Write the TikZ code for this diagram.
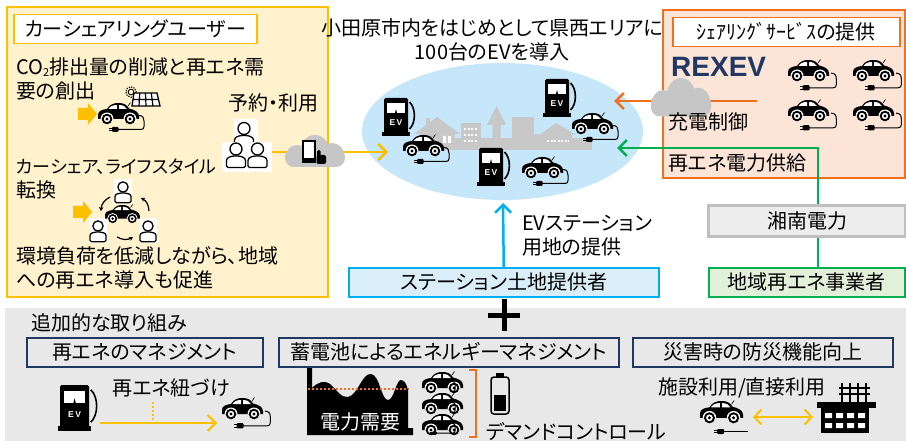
\documentclass[tikz,border=0pt]{standalone}
\usepackage{fontspec}
\setmainfont{Noto Sans CJK JP}[RawFeature=+palt]
\newfontfamily\logofont{Liberation Sans}
\usetikzlibrary{arrows.meta,positioning,shapes.geometric,calc}

\definecolor{userfill}{HTML}{FFF2CC}
\definecolor{useryellow}{HTML}{FFC000}
\definecolor{areablue}{HTML}{C6E6FA}
\definecolor{citygray}{HTML}{C8C8C8}
\definecolor{cloudgray}{HTML}{C6C6C6}
\definecolor{rexevfill}{HTML}{FCE4D6}
\definecolor{rexevorange}{HTML}{F0701E}
\definecolor{rexevnavy}{HTML}{203864}
\definecolor{landblue}{HTML}{00B0F0}
\definecolor{landfill}{HTML}{DAEEF9}
\definecolor{powergreen}{HTML}{00B050}
\definecolor{greenfill}{HTML}{E2F0D9}
\definecolor{shonanfill}{HTML}{EDEDED}
\definecolor{shonangray}{HTML}{BFBFBF}
\definecolor{bandgray}{HTML}{E8E8E8}

\tikzset{
    lbl/.style={font=\fontsize{20}{24}\selectfont, inner sep=0pt, align=left},
    box/.style={draw, line width=1.5pt, inner sep=0pt, anchor=north west, font=\fontsize{20}{24}\selectfont},
    flow/.style={line width=2.5pt, -{Straight Barb[length=8pt,width=16pt]}},
    % car silhouette, roof top at y=0
    carbody/.pic={
        \fill (0,16) -- (0,12) .. controls (0,8) and (4,6.5) .. (9,6) .. controls (12,1) and (16,0) .. (21,0)
            .. controls (26,0) and (29,2) .. (31,5.5) .. controls (36,6.5) and (41,9) .. (41,13) -- (41,16) -- cycle;
        \fill[white] (10.5,6) .. controls (12.5,3) and (15,2) .. (19,2) -- (19,6) -- cycle;
        \fill[white] (21,2) .. controls (25,2) and (27.5,3.5) .. (29,6) -- (21,6) -- cycle;
        \draw[line width=0.6pt] (30,3) -- (32.5,-0.5);
        \foreach \wx in {9,32} {
            \fill[white] (\wx,16) ++(-6.5,0) arc[start angle=180, end angle=360, radius=6.5] -- cycle;
            \fill (\wx,16) circle (5.3);
            \fill[white] (\wx,16) circle (3.2);
            \fill (\wx,16) circle (1.6);
        }
    },
    % car with charging cable and plug
    evcar/.pic={
        \pic {carbody};
        \draw[line width=1pt] (41,12.5) .. controls (45,12.5) and (46,15) .. (46,18) -- (46,23.5)
            .. controls (46,25.5) and (45,26.5) .. (43,26.5) -- (20,26.5);
        \fill[rounded corners=1pt] (14,24) rectangle (20.5,29);
        \draw[line width=0.8pt] (14,25.2) -- (11,25.2) (14,27.8) -- (11,27.8);
    },
    carlink/.pic={
        \pic {carbody};
        \draw[line width=1pt] (41,12.5) .. controls (45,12.5) and (46,15) .. (46,18) -- (46,24)
            .. controls (46,26) and (45,27) .. (42,27);
    },
    % charging post
    evpost/.pic={
        \fill[rounded corners=1.5pt] (1,0) rectangle (25,36);
        \fill (-1,34) rectangle (27,38);
        \fill[white] (4,5) rectangle (22,15);
        \fill (12,15) -- (13,11) -- (14,15) -- cycle;
        \node[white, inner sep=0, font=\logofont\bfseries\fontsize{8.5}{8.5}\selectfont] (ev) at (13,25) {E\,V};
        \draw[line width=1.6pt] (26.5,4) .. controls (33,10) and (33,25) .. (26.5,31);
    },
    % person outline, head centre at origin
    user/.pic={
        \filldraw[fill=white, line width=1.3pt, rounded corners=1.5pt] (-9.5,18.5) -- (-9.5,13)
            .. controls (-9.5,8.5) and (-5,7) .. (0,7) .. controls (5,7) and (9.5,8.5) .. (9.5,13) -- (9.5,18.5) -- cycle;
        \filldraw[fill=white, line width=1.3pt] (0,0) circle (6);
    },
    cloudicon/.pic={
        \fill[cloudgray] (15,21) circle (11);
        \fill[cloudgray] (33,14) circle (14);
        \fill[cloudgray] (50,20) circle (12);
        \fill[cloudgray, rounded corners=9pt] (3,13) rectangle (63,32);
    }
}

\begin{document}
\begin{tikzpicture}[x=1pt, y=-1pt]
    \useasboundingbox (0,0) rectangle (906,441);

    % Car sharing users
    \node[box, draw=useryellow, fill=userfill, line width=2pt, minimum width=321, minimum height=290] (userbox) at (6,6) {};
    \node[box, draw=useryellow, fill=white, minimum width=243, minimum height=29] (usertitle) at (13,14) {カーシェアリングユーザー};
    \node[lbl, anchor=base west] (co2) at (16,99) {CO{\fontsize{11}{11}\selectfont\raisebox{-2pt}{2}}排出量の削減と再エネ需\\要の創出};
    \node[lbl, anchor=base] (reserve) at (273,110.5) {予約・利用};
    \node[lbl, anchor=base west] (lifestyle) at (16,197.5) {{\fontsize{18}{24}\selectfont カーシェア、ライフスタイル}\\転換};
    \node[lbl, anchor=base west] (local) at (16,287.5) {環境負荷を低減しながら、地域\\への再エネ導入も促進};

    % block arrows
    \fill[useryellow] (78,108) -- (88,108) -- (88,103) -- (97,114) -- (88,125) -- (88,120) -- (78,120) -- cycle;
    \fill[useryellow] (73,206) -- (83,206) -- (83,201) -- (92,212) -- (83,223) -- (83,218) -- (73,218) -- cycle;

    % solar car
    \pic at (98,103) {evcar};
    \draw[line width=0.9pt] (131,92) circle (2.8);
    \draw[line width=1.2pt, dash pattern=on 1.2pt off 1.2pt] (131,92) circle (5.2);
    \filldraw[fill=white, line width=1.3pt] (134,93) -- (157,93) -- (160,106) -- (132,106) -- cycle;
    \draw[line width=1.2pt] (139.75,93) -- (139,106) (145.5,93) -- (146,106) (151.25,93) -- (153,106) (133,99.5) -- (158.5,99.5);

    % sharing cycle
    \fill[white] (114,179) rectangle (132,204);
    \fill[white] (89,218) rectangle (107,243);
    \fill[white] (139,218) rectangle (157,243);
    \pic[scale=0.85] at (123,187) {user};
    \pic[scale=0.85] at (98,226) {user};
    \pic[scale=0.85] at (148,226) {user};
    \pic[scale=0.85] at (105,205) {carbody};
    \begin{scope}[line width=1.2pt, -{Stealth[length=4pt,width=4.5pt]}]
        \draw (110,197) to[bend right=30] (101,211);
        \draw (149,211) to[bend right=30] (141,198);
        \draw (117,237) to[bend right=30] (133,237);
    \end{scope}

    % service area
    \node[ellipse, fill=areablue, minimum width=281, minimum height=137, inner sep=0] (area) at (502.5,131.5) {};
    \node[lbl, align=center, anchor=base] (goal) at (492,59.5) {小田原市内をはじめとして県西エリアに\\100台のEVを導入};
    \coordinate (areaW) at (388,152);
    \coordinate (areaNE) at (614,101);
    \coordinate (areaE) at (617,148);
    \coordinate (areaS) at (503,203);

    % town
    \fill[citygray] (418,138) rectangle (592,150);
    \fill[citygray] (420,132) rectangle (455,150);
    \fill[citygray] (414,134) -- (437,117) -- (460,134) -- cycle;
    \fill[citygray] (426,118) rectangle (430,127);
    \fill[white] (443,136) rectangle (446,143) (448,136) rectangle (451,143);
    \fill[citygray] (461,123) rectangle (481,150);
    \foreach \wy in {129,135,141}
        \draw[white, line width=2pt, dash pattern=on 2pt off 1.5pt] (464,\wy) -- (478,\wy);
    \fill[citygray] (487,125) -- (496.5,106) -- (506,125) -- (500.5,125) -- (500.5,150) -- (492.5,150) -- (492.5,125) -- cycle;
    \fill[citygray] (512,117) rectangle (534,150);
    \fill[citygray] (534,134) rectangle (545,150);
    \fill[citygray] (543,134) rectangle (572,150);
    \fill[citygray] (539,135) -- (556,123) -- (576,135) -- cycle;
    \draw[white, line width=2pt, dash pattern=on 2pt off 1.5pt] (547,141) -- (569,141);

    % posts and cars
    \pic at (383,98) {evpost};
    \pic at (544,79) {evpost};
    \pic at (478,148) {evpost};
    \pic at (403,135) {evcar};
    \pic at (572,113) {evcar};
    \pic at (522,157) {evcar};

    % booking line
    \coordinate (usersE) at (272,152);
    \draw[flow, useryellow] (usersE) -- (areaW);
    \pic at (282,135) {cloudicon};
    \filldraw[fill=white, line width=1.6pt] (303,141) rectangle (315,162);
    \fill (303,158) rectangle (315,162);
    \fill[rounded corners=1.5pt] (317,150) rectangle (320.5,158);
    \fill[rounded corners=2pt] (316.5,155) rectangle (326,164);
    \fill[white] (234,119) rectangle (258,142);
    \pic at (244,128.5) {user};
    \fill[white] (222,142) rectangle (272,172);
    \pic at (236,149) {user};
    \pic at (257.5,149) {user};

    % REXEV
    \node[box, draw=rexevorange, fill=rexevfill, line width=2pt, minimum width=242, minimum height=168] (rexevbox) at (662,9) {};
    \node[box, draw=rexevorange, fill=white, minimum width=227, minimum height=29] (rexevtitle) at (672,17) {ｼｪｱﾘﾝｸﾞｻｰﾋﾞｽの提供};
    \node[anchor=base west, inner sep=0, text=rexevnavy, font=\logofont\bfseries\fontsize{28}{28}\selectfont] (rexev) at (671,77) {REXEV};
    \foreach \cx/\cy in {788/60,853/60,788/100,853/100}
        \pic[scale=1.05] at (\cx,\cy) {evcar};
    \coordinate (ctrlE) at (757,101);
    \draw[flow, rexevorange] (ctrlE) -- (areaNE);
    \pic[yscale=1.2] at (648,78) {cloudicon};
    \node[lbl, anchor=base west] (ctrl) at (668,129.5) {充電制御};
    \node[lbl, anchor=base west] (supplytext) at (668,170.5) {再エネ電力供給};

    % power supply
    \coordinate (supply) at (818,148);
    \node[box, draw=powergreen, fill=greenfill, minimum width=196, minimum height=29] (localre) at (708,267) {地域再エネ事業者};
    \draw[flow, powergreen] (localre.north -| supply) -- (supply) -- (areaE);
    \node[box, draw=shonangray, fill=shonanfill, line width=3pt, minimum width=197, minimum height=31] (shonan) at (707,204) {湘南電力};

    % station land
    \node[box, draw=landblue, fill=landfill, minimum width=310, minimum height=29] (landbox) at (348,267) {ステーション土地提供者};
    \draw[flow, landblue] (landbox.north) -- (areaS);
    \node[lbl, anchor=base west] (landtext) at (522,254.5) {EVステーション\\用地の提供};

    % additional measures
    \node[fill=bandgray, inner sep=0, anchor=north west, minimum width=901, minimum height=133] (extras) at (5,308) {};
    \draw[line width=5pt] (488,315) -- (520,315) (504,299) -- (504,331);
    \node[lbl, anchor=base west] (extratitle) at (31,330.5) {追加的な取り組み};
    \node[box, draw=rexevnavy, minimum width=236, minimum height=29] (mgmt) at (26,337) {再エネのマネジメント};
    \node[box, draw=rexevnavy, minimum width=340, minimum height=29] (storage) at (278,337) {蓄電池によるエネルギーマネジメント};
    \node[box, draw=rexevnavy, minimum width=260, minimum height=29] (disaster) at (632,337) {災害時の防災機能向上};

    % renewable link
    \node[lbl, anchor=base] (link) at (171,395.5) {再エネ紐づけ};
    \pic[scale=1.2] at (59,385) {evpost};
    \coordinate (postE) at (100,423);
    \coordinate (carW) at (217,423);
    \draw[flow, useryellow, line width=2pt] (postE) -- (carW);
    \draw[useryellow, line width=2pt, dash pattern=on 2pt off 2pt] (153,402) -- (153,421);
    \pic[scale=1.05] at (222,398) {evcar};

    % demand curve
    \fill (307,435) -- (307,368) -- (312,368) -- (312,388) .. controls (318,382) and (324,380) .. (330,384)
        .. controls (337,390) and (341,398) .. (348,397) .. controls (358,395) and (362,373) .. (371,374)
        .. controls (380,375) and (381,400) .. (388,400) .. controls (394,400) and (396,380) .. (401,380)
        .. controls (405,380) and (407,386) .. (408,390) -- (408,428) -- (413,428) -- (413,435) -- cycle;
    \draw[rexevorange, line width=2pt, dash pattern=on 2pt off 2pt] (308,389) -- (409,389);
    \node[lbl, anchor=base, text=white] (demand) at (360,429.5) {電力需要};
    \pic[scale=0.72] at (422,372) {carlink};
    \pic[scale=0.72] at (422,393) {carlink};
    \pic[scale=0.72] at (422,414) {evcar};
    \draw[rexevorange, line width=1.5pt] (469,370) -- (476,370) -- (476,437) -- (469,437);
    \draw[line width=1.5pt, rounded corners=3pt] (491,377) rectangle (509,414);
    \fill (496,372.5) rectangle (504,377);
    \fill (494,395) rectangle (506,411);
    \node[lbl, anchor=base west] (control) at (486,439.5) {デマンドコントロール};

    % facility use
    \node[lbl, anchor=base] (facility) at (742,394.5) {施設利用/直接利用};
    \pic[scale=1.05] at (700,401) {carbody};
    \fill[rounded corners=1pt] (717,429) rectangle (724,434);
    \draw[line width=0.8pt] (717,430.3) -- (714,430.3) (717,432.7) -- (714,432.7);
    \draw[line width=1pt] (724,431.5) -- (748,431.5);
    \coordinate (carE) at (753,417);
    \coordinate (plantW) at (813,417);
    \draw[useryellow, line width=2pt, {Straight Barb[length=7pt,width=15pt]}-{Straight Barb[length=7pt,width=15pt]}] (carE) -- (plantW);
    \foreach \fx in {842,850,858,866}
        \draw[line width=2.5pt] (\fx,383) -- (\fx,403);
    \draw[line width=1.5pt] (839,388) -- (870,388) (839,394) -- (870,394);
    \fill (817,402) rectangle (876,408);
    \fill (821,408) rectangle (869,433);
    \foreach \fx in {825,836,847,858}
        \fill[white] (\fx,413) rectangle ++(7,5) (\fx,423) rectangle ++(7,5);
\end{tikzpicture}
\end{document}
